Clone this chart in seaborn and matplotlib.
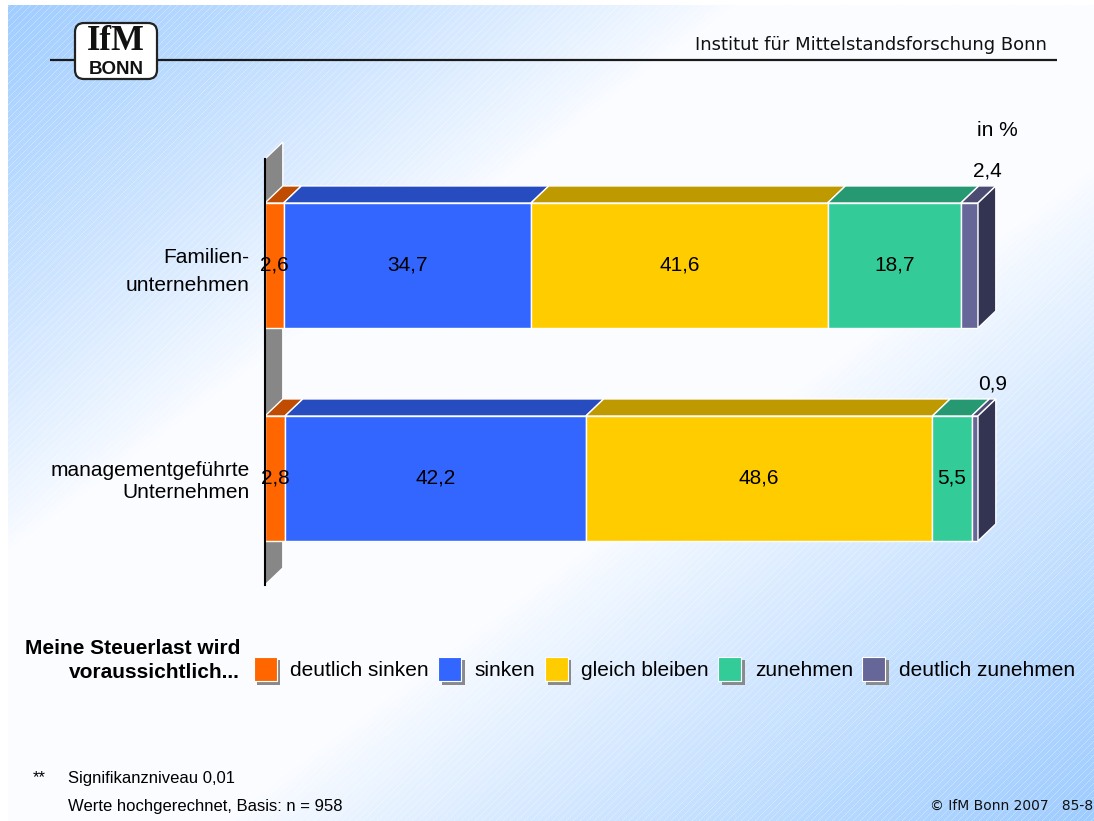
import numpy as np
import matplotlib
matplotlib.use("Agg")
import matplotlib.pyplot as plt
from matplotlib.patches import Polygon, FancyBboxPatch, Patch
import matplotlib.patheffects as pe
import seaborn as sns

# ---- data -------------------------------------------------------------
categories = ["Familien-\nunternehmen", "managementgeführte\nUnternehmen"]
series_names = ["deutlich sinken", "sinken", "gleich bleiben", "zunehmen", "deutlich zunehmen"]
deutlich_sinken = [2.6, 2.8]
sinken = [34.7, 42.2]
gleich_bleiben = [41.6, 48.6]
zunehmen = [18.7, 5.5]
deutlich_zunehmen = [2.4, 0.9]

# ---- style ------------------------------------------------------------
front_colors = ["#FF6600", "#3366FF", "#FFCC00", "#33CC99", "#666699"]
top_colors = ["#BF4C00", "#264CBF", "#BF9900", "#269973", "#4C4C73"]
side_color = "#333352"
wall_color = "#878787"

plt.rcParams["font.family"] = ["Liberation Sans", "DejaVu Sans"]

W, H, DPI = 1094, 821, 100
fig = plt.figure(figsize=(W / DPI, H / DPI), dpi=DPI)

# ---- slide background: diagonal blue-white-blue gradient with fine stripes
bg = fig.add_axes([0, 0, 1, 1], zorder=-10)
yy, xx = np.mgrid[0:H, 0:W]
u = (xx / W + yy / H) / 2
blend = np.clip((0.34 - u) / 0.34, 0, 1) ** 0.85 + np.clip((u - 0.6) / 0.4, 0, 1) ** 0.85
blend = np.clip(blend, 0, 1)
blue = np.array([0.62, 0.80, 1.0])
white = np.array([0.985, 0.99, 1.0])
img = white + (blue - white) * blend[..., None]
stripes = ((xx + yy) % 7) == 0
img[stripes] = img[stripes] + (1 - img[stripes]) * 0.3
img[:, :8] = 1.0
img[:5, :] = 1.0
bg.imshow(img, extent=(0, W, H, 0), aspect="auto", interpolation="nearest")
bg.set_xlim(0, W)
bg.set_ylim(H, 0)
bg.axis("off")

# header rule, logo and institute name
bg.plot([50, 1057], [60, 60], color="#1a1a1a", lw=1.6, solid_capstyle="butt")
bg.add_patch(FancyBboxPatch((75, 23), 82, 56, boxstyle="round,pad=0,rounding_size=9",
                            fc="white", ec="#222222", lw=1.6, zorder=3))
bg.text(116, 41, "IfM", family="Liberation Serif", fontsize=25, weight="bold",
        ha="center", va="center", color="#111111", zorder=4)
bg.text(116, 69, "BONN", family="Liberation Sans", fontsize=13.5, weight="bold",
        ha="center", va="center", color="#111111", zorder=4)
bg.text(1047, 45, "Institut für Mittelstandsforschung Bonn", family="DejaVu Sans",
        fontsize=13, ha="right", va="center", color="#111111")
bg.text(997, 130, "in %", fontsize=15, ha="center", va="center")

# ---- stacked 3D-style bars ------------------------------------------
series = [deutlich_sinken, sinken, gleich_bleiben, zunehmen, deutlich_zunehmen]
vals = np.array(series, dtype=float)
starts = np.vstack([np.zeros(vals.shape[1]), np.cumsum(vals, axis=0)[:-1]])

bar_w = 0.587
dx, dy = 2.5, 0.08

ax = fig.add_axes([265 / W, 1 - 606.3 / H, 713 / W, 468.6 / H])
ax.set_facecolor("none")

for i, name in enumerate(series_names):
    sns.barplot(x=series[i], y=categories, left=starts[i], orient="h",
                color=front_colors[i], saturation=1, width=bar_w, errorbar=None,
                edgecolor="white", linewidth=1, zorder=3, ax=ax)

# back wall
ax.add_patch(Polygon([(0, -0.5), (dx, -0.5 - dy), (dx, 1.5 - dy), (0, 1.5)], closed=True,
                     fc=wall_color, ec="white", lw=1, zorder=1, clip_on=False))
ax.plot([0, 0], [-0.5, 1.5], color="black", lw=1.5, zorder=5, clip_on=False)

# top faces and right side face
for j in range(vals.shape[1]):
    yt = j - bar_w / 2
    yb = j + bar_w / 2
    for i in range(vals.shape[0]):
        x0 = starts[i][j]
        x1 = x0 + vals[i][j]
        ax.add_patch(Polygon([(x0, yt), (x1, yt), (x1 + dx, yt - dy), (x0 + dx, yt - dy)],
                             closed=True, fc=top_colors[i], ec="white", lw=1, zorder=4,
                             clip_on=False))
    xe = starts[-1][j] + vals[-1][j]
    ax.add_patch(Polygon([(xe, yt), (xe + dx, yt - dy), (xe + dx, yb - dy), (xe, yb)],
                         closed=True, fc=side_color, ec="white", lw=1, zorder=4, clip_on=False))


def fmt(v):
    return f"{v:.1f}".replace(".", ",")


# value labels
for i in range(vals.shape[0] - 1):
    ax.bar_label(ax.containers[i], labels=[fmt(v) for v in vals[i]], label_type="center",
                 fontsize=15, zorder=6)
for j in range(vals.shape[1]):
    cx = starts[-1][j] + vals[-1][j] / 2 + dx
    ax.text(cx, j - bar_w / 2 - dy - 0.025, fmt(vals[-1][j]), ha="center", va="bottom",
            fontsize=15, zorder=6, clip_on=False)

ax.set_xlim(0, 100)
ax.set_ylim(1.6, -0.6)
ax.set_xlabel("")
ax.set_ylabel("")
ax.set_xticks([])
ax.tick_params(axis="y", length=0, pad=11, labelsize=15)
ax.get_yticklabels()[0].set_linespacing(1.55)
for s in ax.spines.values():
    s.set_visible(False)

# ---- legend -----------------------------------------------------------
handles = [Patch(fc=c, ec="white", lw=0.8) for c in front_colors]
leg = fig.legend(handles, series_names, loc="center left",
                 bbox_to_anchor=(254 / W, 1 - 669 / H), ncol=5, frameon=False, fontsize=15,
                 handlelength=1.1, handleheight=1.4, handletextpad=0.65, columnspacing=0.45,
                 borderpad=0, borderaxespad=0)
for h in leg.legend_handles:
    h.set_path_effects([pe.SimplePatchShadow(offset=(2.5, -2.5), shadow_rgbFace="#8a8a8a",
                                             alpha=1), pe.Normal()])
bg.text(240, 648, "Meine Steuerlast wird", fontsize=15, weight="bold", ha="right", va="center")
bg.text(240, 672, "voraussichtlich...", fontsize=15, weight="bold", ha="right", va="center")

# ---- footer -------------------------------------------------------------
bg.text(33, 778, "**", fontsize=12, ha="left", va="center")
bg.text(68, 778, "Signifikanzniveau 0,01", fontsize=12, ha="left", va="center")
bg.text(68, 806, "Werte hochgerechnet, Basis: n = 958", fontsize=12, ha="left", va="center")
bg.text(1093, 806, "© IfM Bonn 2007   85-8", family="DejaVu Sans", fontsize=10,
        ha="right", va="center", color="#111111")

fig.savefig("out.png", dpi=DPI)
